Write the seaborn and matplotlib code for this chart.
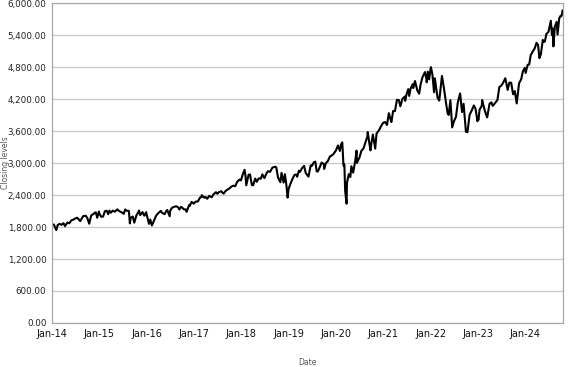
import pandas as pd
import numpy as np
import seaborn as sns
import matplotlib.pyplot as plt
import matplotlib.dates as mdates
from matplotlib.ticker import FuncFormatter

# closing levels, roughly twice a month plus the big swings
s2014 = [("01-02", 1832), ("01-15", 1848), ("02-03", 1742), ("02-14", 1838), ("02-28", 1859),
         ("03-14", 1841), ("03-31", 1872), ("04-11", 1816), ("04-30", 1884), ("05-15", 1870),
         ("05-30", 1924), ("06-13", 1937), ("06-30", 1960), ("07-15", 1973), ("07-31", 1931),
         ("08-07", 1910), ("08-29", 2003), ("09-18", 2011), ("09-30", 1972), ("10-15", 1862),
         ("10-31", 2018), ("11-14", 2039), ("11-28", 2068), ("12-05", 2075), ("12-16", 1973),
         ("12-29", 2090), ("12-31", 2059)]
s2015 = [("01-15", 1992), ("01-30", 1995), ("02-13", 2096), ("02-27", 2105), ("03-11", 2040),
         ("03-20", 2108), ("03-31", 2068), ("04-15", 2107), ("04-30", 2086), ("05-21", 2131),
         ("05-29", 2107), ("06-15", 2084), ("06-30", 2063), ("07-08", 2047), ("07-20", 2129),
         ("07-31", 2104), ("08-17", 2102), ("08-25", 1868), ("08-31", 1972), ("09-16", 1996),
         ("09-28", 1881), ("10-15", 2023), ("10-30", 2079), ("11-03", 2109), ("11-13", 2023),
         ("11-30", 2080), ("12-14", 2012), ("12-29", 2078), ("12-31", 2044)]
s2016 = [("01-20", 1859), ("01-29", 1940), ("02-11", 1829), ("02-29", 1932), ("03-15", 2015),
         ("03-31", 2060), ("04-20", 2102), ("04-29", 2065), ("05-19", 2040), ("05-31", 2097),
         ("06-08", 2119), ("06-27", 2001), ("06-30", 2099), ("07-15", 2162), ("07-29", 2174),
         ("08-15", 2190), ("08-31", 2171), ("09-09", 2128), ("09-22", 2177), ("09-30", 2168),
         ("10-14", 2133), ("10-31", 2126), ("11-04", 2085), ("11-25", 2213), ("11-30", 2199),
         ("12-13", 2271), ("12-30", 2239)]
s2017 = [("01-13", 2275), ("01-31", 2279), ("02-15", 2349), ("02-28", 2364), ("03-01", 2396),
         ("03-22", 2349), ("03-31", 2363), ("04-13", 2329), ("04-28", 2384), ("05-17", 2357),
         ("05-31", 2412), ("06-19", 2453), ("06-30", 2423), ("07-14", 2459), ("07-31", 2470),
         ("08-10", 2438), ("08-18", 2426), ("08-31", 2472), ("09-15", 2500), ("09-29", 2519),
         ("10-16", 2557), ("10-31", 2575), ("11-15", 2565), ("11-30", 2648), ("12-18", 2690),
         ("12-29", 2674)]
s2018 = [("01-12", 2786), ("01-26", 2873), ("02-02", 2762), ("02-08", 2581), ("02-26", 2780),
         ("03-09", 2786), ("03-23", 2588), ("04-02", 2582), ("04-18", 2708), ("04-30", 2648),
         ("05-15", 2711), ("05-31", 2705), ("06-12", 2787), ("06-28", 2716), ("07-13", 2801),
         ("07-25", 2846), ("08-10", 2833), ("08-29", 2914), ("09-20", 2931), ("09-28", 2914),
         ("10-11", 2729), ("10-29", 2641), ("11-07", 2814), ("11-23", 2633), ("12-03", 2790),
         ("12-14", 2600), ("12-24", 2351), ("12-31", 2507)]
s2019 = [("01-15", 2611), ("01-31", 2704), ("02-15", 2776), ("02-28", 2784), ("03-08", 2743),
         ("03-21", 2854), ("03-29", 2834), ("04-15", 2906), ("04-30", 2946), ("05-13", 2812),
         ("05-31", 2752), ("06-03", 2744), ("06-20", 2954), ("06-28", 2942), ("07-15", 3014),
         ("07-26", 3026), ("08-05", 2844), ("08-14", 2840), ("08-30", 2926), ("09-12", 3009),
         ("09-30", 2977), ("10-02", 2888), ("10-15", 2996), ("10-31", 3038), ("11-15", 3120),
         ("11-29", 3141), ("12-13", 3169), ("12-31", 3231)]
s2020 = [("01-17", 3330), ("01-31", 3226), ("02-10", 3352), ("02-19", 3386), ("02-28", 2954),
         ("03-06", 2972), ("03-12", 2481), ("03-16", 2386), ("03-23", 2237), ("03-26", 2630),
         ("04-09", 2790), ("04-21", 2737), ("04-29", 2940), ("05-13", 2820), ("05-29", 3044),
         ("06-08", 3232), ("06-11", 3002), ("06-30", 3100), ("07-15", 3227), ("07-31", 3271),
         ("08-14", 3373), ("08-31", 3500), ("09-02", 3580), ("09-23", 3237), ("09-30", 3363),
         ("10-12", 3534), ("10-30", 3270), ("11-09", 3550), ("11-30", 3622), ("12-15", 3695),
         ("12-31", 3756)]
s2021 = [("01-15", 3768), ("01-29", 3714), ("02-12", 3934), ("02-26", 3811), ("03-04", 3768),
         ("03-17", 3975), ("03-31", 3973), ("04-16", 4185), ("04-30", 4181), ("05-12", 4063),
         ("05-28", 4204), ("06-15", 4246), ("06-18", 4166), ("06-30", 4298), ("07-12", 4385),
         ("07-19", 4258), ("07-30", 4395), ("08-16", 4479), ("08-19", 4405), ("08-31", 4523),
         ("09-02", 4537), ("09-20", 4358), ("10-04", 4300), ("10-15", 4471), ("10-29", 4605),
         ("11-18", 4705), ("11-30", 4567), ("12-01", 4513), ("12-10", 4712), ("12-20", 4568),
         ("12-31", 4766)]
s2022 = [("01-03", 4797), ("01-14", 4663), ("01-27", 4326), ("02-02", 4589), ("02-23", 4225),
         ("03-08", 4170), ("03-29", 4632), ("04-14", 4392), ("04-29", 4132), ("05-12", 3930),
         ("05-20", 3901), ("06-02", 4177), ("06-16", 3667), ("06-30", 3785), ("07-15", 3863),
         ("07-29", 4130), ("08-16", 4305), ("08-31", 3955), ("09-12", 4110), ("09-30", 3586),
         ("10-12", 3577), ("10-28", 3901), ("11-15", 3992), ("11-30", 4080), ("12-13", 4019),
         ("12-28", 3783), ("12-30", 3840)]
s2023 = [("01-05", 3808), ("01-13", 3999), ("01-31", 4077), ("02-02", 4180), ("02-24", 3970),
         ("03-13", 3855), ("03-31", 4109), ("04-14", 4137), ("04-25", 4071), ("05-12", 4124),
         ("05-31", 4180), ("06-15", 4426), ("06-30", 4450), ("07-14", 4505), ("07-31", 4589),
         ("08-18", 4370), ("08-31", 4508), ("09-14", 4505), ("09-29", 4288), ("10-12", 4349),
         ("10-27", 4117), ("11-14", 4496), ("11-30", 4568), ("12-14", 4720), ("12-28", 4783),
         ("12-29", 4770)]
s2024 = [("01-04", 4688), ("01-19", 4840), ("01-31", 4846), ("02-12", 5022), ("02-29", 5096),
         ("03-14", 5150), ("03-28", 5254), ("04-09", 5209), ("04-19", 4967), ("04-30", 5036),
         ("05-15", 5308), ("05-23", 5268), ("05-31", 5278), ("06-12", 5421), ("06-28", 5460),
         ("07-16", 5667), ("07-25", 5399), ("07-31", 5522), ("08-05", 5186), ("08-16", 5554),
         ("08-30", 5648), ("09-06", 5408), ("09-19", 5713), ("09-30", 5762), ("10-04", 5751),
         ("10-10", 5780), ("10-14", 5859), ("10-18", 5864)]

years = {2014: s2014, 2015: s2015, 2016: s2016, 2017: s2017, 2018: s2018, 2019: s2019,
         2020: s2020, 2021: s2021, 2022: s2022, 2023: s2023, 2024: s2024}

rows = []
for yr, pts in years.items():
    for md, v in pts:
        rows.append((pd.Timestamp(f"{yr}-{md}"), v))
df = pd.DataFrame(rows, columns=["Date", "Close"])

sns.set_style("white")
plt.rcParams['font.family'] = ['DejaVu Sans']

fig = plt.figure(figsize=(5.77, 3.67), dpi=100)
ax = fig.add_axes([52 / 577, 44 / 367, 511 / 577, 320 / 367])

sns.lineplot(data=df, x="Date", y="Close", color="black", linewidth=1.5, ax=ax)

ax.set_xlim(pd.Timestamp("2014-01-01"), df["Date"].max())
ax.set_ylim(0, 6000)
ax.set_yticks(np.arange(0, 6001, 600))
ax.yaxis.set_major_formatter(FuncFormatter(lambda v, p: f"{v:,.2f}"))
ax.xaxis.set_major_locator(mdates.YearLocator())
ax.xaxis.set_major_formatter(mdates.DateFormatter("%b-%y"))

ax.grid(axis="y", color="#c8c8c8", linewidth=0.9)
ax.grid(axis="x", visible=False)
ax.set_axisbelow(True)
for s in ax.spines.values():
    s.set_color("#a8a8a8")
    s.set_linewidth(0.9)

ax.tick_params(axis="y", labelsize=6.3, labelcolor="#222222", length=2, color="#a8a8a8", pad=2)
ax.tick_params(axis="x", labelsize=7, labelcolor="#111111", length=2, color="#a8a8a8", pad=2)

ax.set_xlabel("Date", fontsize=5.5, color="#555555")
ax.set_ylabel("Closing levels", fontsize=5.5, color="#555555")
ax.xaxis.set_label_coords(0.5, -0.109)
ax.yaxis.set_label_coords(-0.082, 0.5)

fig.savefig("out.png", dpi=100)
